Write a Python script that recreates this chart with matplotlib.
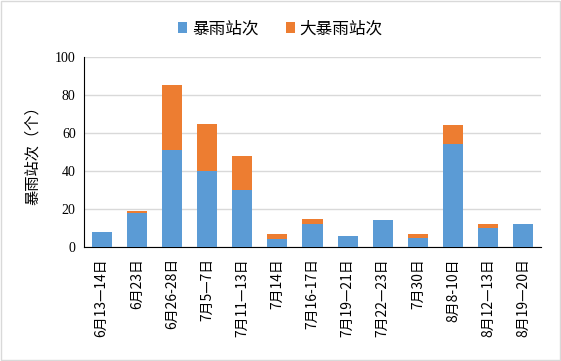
import matplotlib
matplotlib.use('Agg')
import matplotlib.pyplot as plt
import numpy as np

plt.rcParams['font.family'] = ['Noto Sans CJK SC', 'DejaVu Sans']

# 数据
labels = ['6月13—14日', '6月23日', '6月26-28日', '7月5—7日', '7月11—13日',
          '7月14日', '7月16-17日', '7月19—21日', '7月22—23日', '7月30日',
          '8月8-10日', '8月12—13日', '8月19—20日']
baoyu = [8, 18, 51, 40, 30, 4, 12, 6, 14, 5, 54, 10, 12]
dabaoyu = [0, 1, 34, 25, 18, 3, 3, 0, 0, 2, 10, 2, 0]

fig = plt.figure(figsize=(5.61, 3.61), dpi=100)
fig.patches.append(plt.Rectangle((0.002, 0.003), 0.996, 0.994, transform=fig.transFigure,
                                 fill=False, edgecolor='#d9d9d9', linewidth=1))
ax = fig.add_axes([84 / 561, 1 - 247 / 361, (541 - 84) / 561, (247 - 57) / 361])

x = np.arange(len(labels))
ax.bar(x, baoyu, width=0.57, color='#5B9BD5', linewidth=0,
       label='暴雨站次', zorder=3)
ax.bar(x, dabaoyu, width=0.57, bottom=baoyu, color='#ED7D31', linewidth=0,
       label='大暴雨站次', zorder=3)

ax.set_xlim(-0.5, len(labels) - 0.5)
ax.set_ylim(0, 100)
ax.set_yticks(range(0, 101, 20))
ax.set_yticklabels([str(v) for v in range(0, 101, 20)],
                   family=['Liberation Serif', 'DejaVu Serif'], fontsize=10)
ax.set_xticks(x)
ax.set_xticklabels(labels, rotation=90, fontsize=10)
ax.tick_params(axis='x', length=0, pad=8)
ax.tick_params(axis='y', length=0, pad=6)
ax.grid(axis='y', color='#d9d9d9', linewidth=1, zorder=0)
for s in ['top', 'right']:
    ax.spines[s].set_visible(False)
ax.spines['left'].set_color('black')
ax.spines['bottom'].set_color('black')
ax.set_ylabel('暴雨站次（个）', fontsize=11, labelpad=10)

fig.legend(loc='upper center', bbox_to_anchor=(0.5, 0.985), ncol=2, frameon=False,
           fontsize=12, handlelength=0.55, handleheight=0.55, handletextpad=0.3,
           columnspacing=1.6)

fig.savefig('out.png', dpi=100)
